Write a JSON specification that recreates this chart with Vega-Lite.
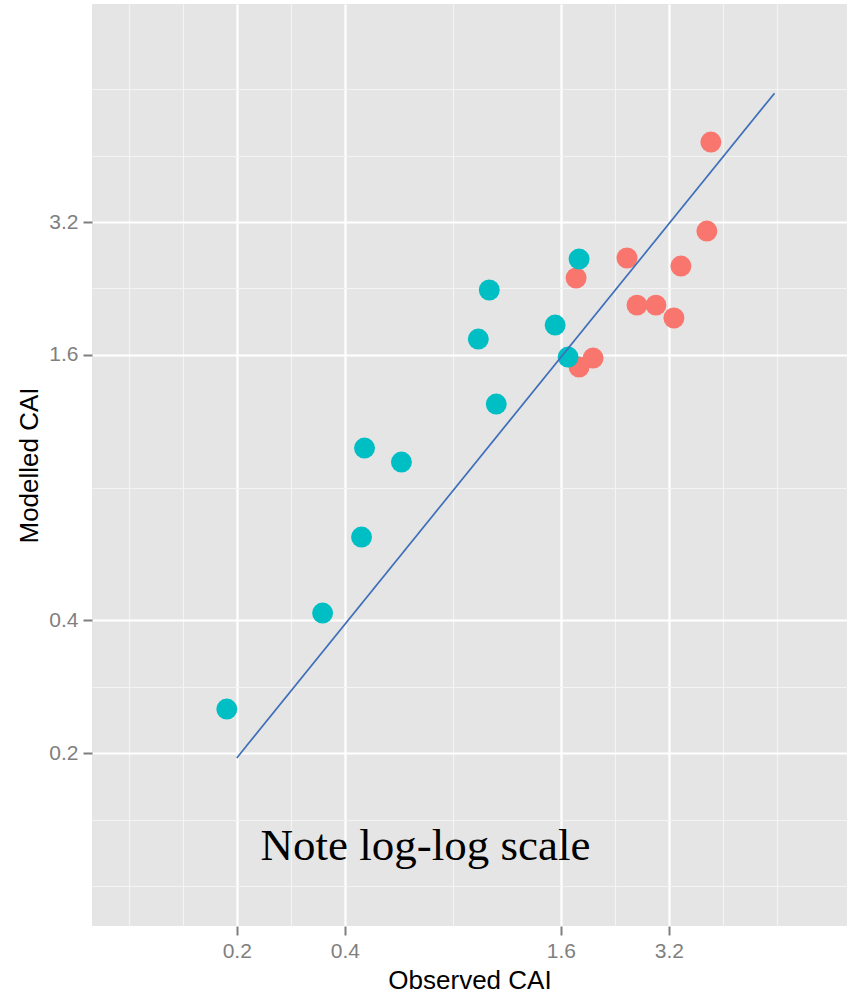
{
  "$schema": "https://vega.github.io/schema/vega-lite/v6.json",
  "width": 755,
  "height": 922,
  "autosize": {"type": "none"},
  "padding": {"left": 92, "top": 4, "right": 3, "bottom": 71},
  "background": "white",
  "config": {
    "view": {"fill": "#E5E5E5", "stroke": null}
  },
  "datasets": {
    "points": [
      {"observed": 1.764, "modelled": 2.389, "group": "red"},
      {"observed": 1.798, "modelled": 1.501, "group": "red"},
      {"observed": 1.967, "modelled": 1.573, "group": "red"},
      {"observed": 2.445, "modelled": 2.652, "group": "red"},
      {"observed": 2.607, "modelled": 2.074, "group": "red"},
      {"observed": 2.944, "modelled": 2.074, "group": "red"},
      {"observed": 3.304, "modelled": 1.939, "group": "red"},
      {"observed": 3.456, "modelled": 2.543, "group": "red"},
      {"observed": 4.082, "modelled": 3.053, "group": "red"},
      {"observed": 4.188, "modelled": 4.858, "group": "red"},
      {"observed": 0.1876, "modelled": 0.2517, "group": "teal"},
      {"observed": 0.3469, "modelled": 0.4154, "group": "teal"},
      {"observed": 0.4453, "modelled": 0.6178, "group": "teal"},
      {"observed": 0.4539, "modelled": 0.9834, "group": "teal"},
      {"observed": 0.5752, "modelled": 0.914, "group": "teal"},
      {"observed": 0.942, "modelled": 1.737, "group": "teal"},
      {"observed": 1.0106, "modelled": 2.244, "group": "teal"},
      {"observed": 1.057, "modelled": 1.237, "group": "teal"},
      {"observed": 1.542, "modelled": 1.869, "group": "teal"},
      {"observed": 1.676, "modelled": 1.581, "group": "teal"},
      {"observed": 1.798, "modelled": 2.638, "group": "teal"}
    ],
    "fit": [
      {"observed": 0.2, "modelled": 0.195},
      {"observed": 6.3, "modelled": 6.27}
    ],
    "note": [
      {"observed": 0.671, "modelled": 0.1143, "label": "Note log-log scale"}
    ]
  },
  "encoding": {
    "x": {
      "field": "observed",
      "type": "quantitative",
      "scale": {"type": "log", "domain": [0.079, 10.03], "nice": false},
      "axis": {
        "title": "Observed CAI",
        "values": [0.1, 0.1414, 0.2, 0.2828, 0.4, 0.8, 1.6, 2.263, 3.2, 4.525, 6.4],
        "format": ".1f",
        "labelExpr": "indexof([0.2,0.4,1.6,3.2], datum.value) >= 0 ? datum.label : ''",
        "gridColor": {"condition": {"test": "indexof([0.2,0.4,1.6,3.2], datum.value) >= 0", "value": "#FFFFFF"}, "value": "#F4F4F4"},
        "gridWidth": {"condition": {"test": "indexof([0.2,0.4,1.6,3.2], datum.value) >= 0", "value": 2.2}, "value": 1.2},
        "tickOpacity": {"condition": {"test": "indexof([0.2,0.4,1.6,3.2], datum.value) >= 0", "value": 1}, "value": 0},
        "domain": false,
        "tickColor": "#7F7F7F",
        "tickWidth": 2,
        "tickSize": 9,
        "labelColor": "#7F7F7F",
        "labelFont": "Liberation Sans",
        "labelFontSize": 21,
        "labelPadding": 5,
        "labelOverlap": false,
        "labelFlush": false,
        "titleFont": "Liberation Sans",
        "titleFontSize": 26,
        "titleFontWeight": "normal",
        "titleColor": "black",
        "titlePadding": 6
      }
    },
    "y": {
      "field": "modelled",
      "type": "quantitative",
      "scale": {"type": "log", "domain": [0.0811, 9.99], "nice": false},
      "axis": {
        "title": "Modelled CAI",
        "values": [0.1, 0.1414, 0.2, 0.2828, 0.4, 0.8, 1.6, 2.263, 3.2, 4.525, 6.4],
        "format": ".1f",
        "labelExpr": "indexof([0.2,0.4,1.6,3.2], datum.value) >= 0 ? datum.label : ''",
        "gridColor": {"condition": {"test": "indexof([0.2,0.4,1.6,3.2], datum.value) >= 0", "value": "#FFFFFF"}, "value": "#F4F4F4"},
        "gridWidth": {"condition": {"test": "indexof([0.2,0.4,1.6,3.2], datum.value) >= 0", "value": 2.2}, "value": 1.2},
        "tickOpacity": {"condition": {"test": "indexof([0.2,0.4,1.6,3.2], datum.value) >= 0", "value": 1}, "value": 0},
        "domain": false,
        "tickColor": "#7F7F7F",
        "tickWidth": 2,
        "tickSize": 9,
        "labelColor": "#7F7F7F",
        "labelFont": "Liberation Sans",
        "labelFontSize": 21,
        "labelPadding": 5,
        "labelOverlap": false,
        "labelFlush": false,
        "titleFont": "Liberation Sans",
        "titleFontSize": 26,
        "titleFontWeight": "normal",
        "titleColor": "black",
        "titlePadding": 6
      }
    }
  },
  "layer": [
    {
      "data": {"name": "points"},
      "mark": {"type": "circle", "size": 440, "opacity": 1},
      "encoding": {
        "color": {
          "field": "group",
          "type": "nominal",
          "scale": {"domain": ["red", "teal"], "range": ["#F8766D", "#00BFC4"]},
          "legend": null
        }
      }
    },
    {
      "data": {"name": "fit"},
      "mark": {"type": "line", "color": "#3F6FBA", "strokeWidth": 1.7},
      "encoding": {}
    },
    {
      "data": {"name": "note"},
      "mark": {"type": "text", "font": "Liberation Serif", "fontSize": 45, "align": "center", "baseline": "alphabetic", "color": "black"},
      "encoding": {"text": {"field": "label"}}
    }
  ]
}
